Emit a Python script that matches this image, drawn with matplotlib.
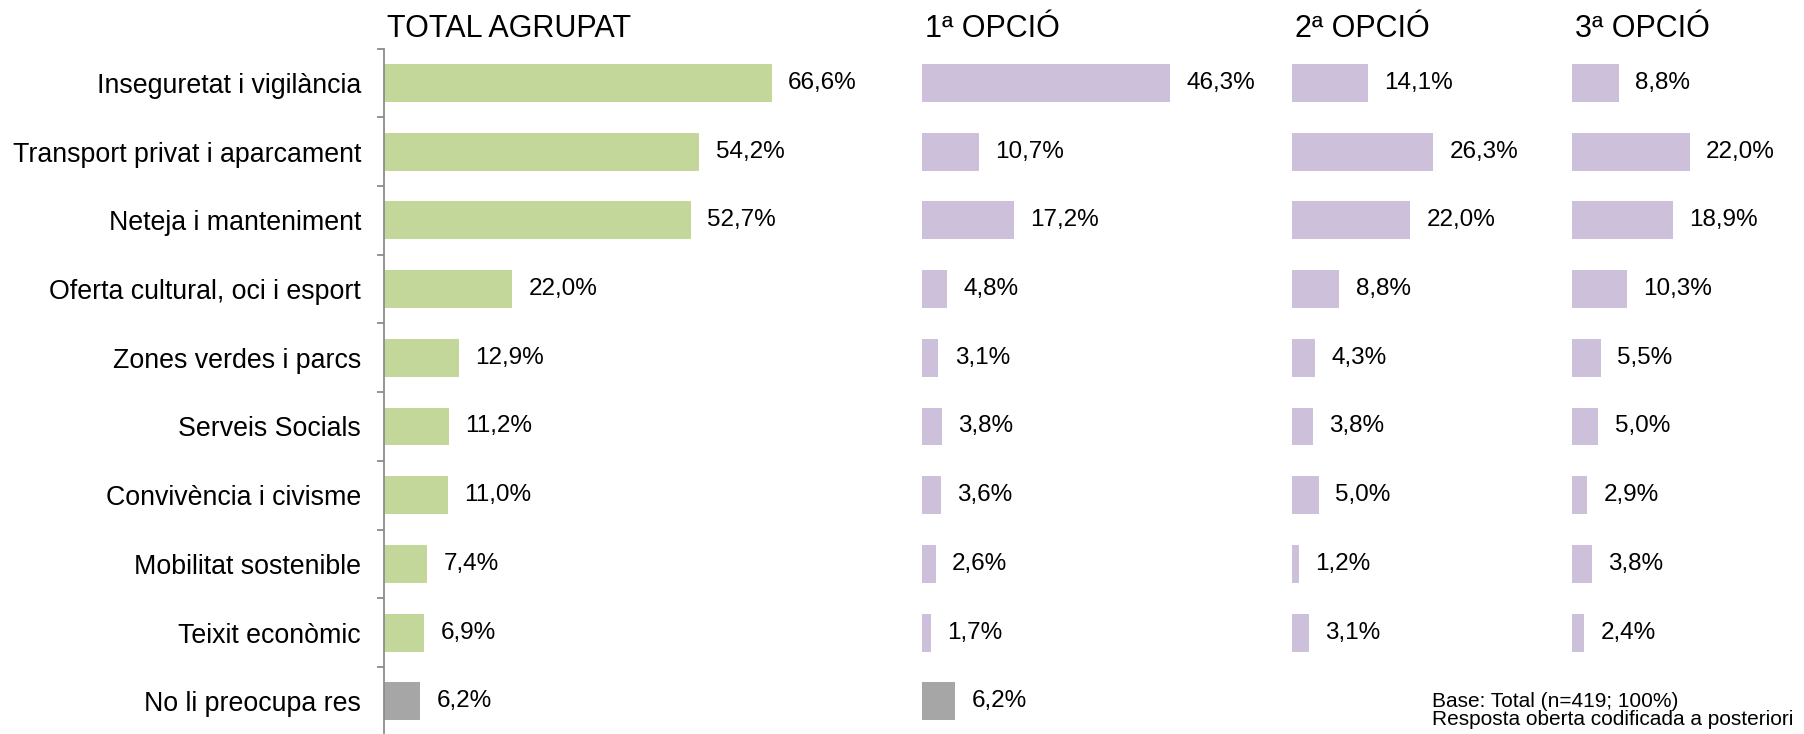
import numpy as np
import matplotlib
matplotlib.use("Agg")
import matplotlib.pyplot as plt

plt.rcParams["font.family"] = ["Liberation Sans", "DejaVu Sans"]

categories = ["Inseguretat i vigilància", "Transport privat i aparcament",
              "Neteja i manteniment", "Oferta cultural, oci i esport",
              "Zones verdes i parcs", "Serveis Socials", "Convivència i civisme",
              "Mobilitat sostenible", "Teixit econòmic", "No li preocupa res"]
total = [66.6, 54.2, 52.7, 22.0, 12.9, 11.2, 11.0, 7.4, 6.9, 6.2]
opcio1 = [46.3, 10.7, 17.2, 4.8, 3.1, 3.8, 3.6, 2.6, 1.7, 6.2]
opcio2 = [14.1, 26.3, 22.0, 8.8, 4.3, 3.8, 5.0, 1.2, 3.1, None]
opcio3 = [8.8, 22.0, 18.9, 10.3, 5.5, 5.0, 2.9, 3.8, 2.4, None]
titles = ["TOTAL AGRUPAT", "1ª OPCIÓ", "2ª OPCIÓ", "3ª OPCIÓ"]

green = "#C4D79B"
purple = "#CCC0DA"
grey = "#A6A6A6"

W, H = 1804, 734
fig = plt.figure(figsize=(W / 100, H / 100), dpi=100)

# panel geometry in pixels: left edge, width, px per percent
panels = [(384, 480, 5.82), (921.7, 300, 5.36), (1292.3, 260, 5.36), (1571.6, 232, 5.36)]
row_top, row_step = 83, 68.7
ax_top = row_top - row_step / 2
ax_h = row_step * 10


def fmt(v):
    return f"{v:.1f}%".replace(".", ",")


series = [total, opcio1, opcio2, opcio3]
base_colors = [green, purple, purple, purple]

for k, (left, width, scale) in enumerate(panels):
    ax = fig.add_axes([left / W, (H - ax_top - ax_h) / H, width / W, ax_h / H])
    vals = series[k]
    y = np.arange(len(categories))
    for i, v in enumerate(vals):
        if v is None:
            continue
        c = grey if categories[i] == "No li preocupa res" else base_colors[k]
        ax.barh(i, v, height=0.553, color=c, edgecolor="none")
        ax.annotate(fmt(v), (v, i), xytext=(11.8, 0), textcoords="offset points",
                    ha="left", va="center", fontsize=17.5)
    ax.set_xlim(0, width / scale)
    ax.set_ylim(9.5, -0.5)
    ax.set_xticks([])
    for s in ["top", "right", "bottom"]:
        ax.spines[s].set_visible(False)
    if k == 0:
        ax.spines["left"].set_color("#8C8C8C")
        ax.spines["left"].set_linewidth(1.3)
        ax.set_yticks(y)
        ax.set_yticklabels(categories, fontsize=19.3)
        ax.tick_params(axis="y", which="major", length=0, pad=16.5)
        ax.set_yticks(np.arange(-0.5, 10, 1), minor=True)
        ax.tick_params(axis="y", which="minor", length=5, width=1.3, color="#8C8C8C")
    else:
        ax.spines["left"].set_visible(False)
        ax.set_yticks([])
    ax.patch.set_alpha(0)
    fig.text((left + 3) / W, 1 - 36.7 / H, titles[k], fontsize=22, ha="left", va="baseline")

fig.text(1431.7 / W, (H - 706.7) / H, "Base: Total (n=419; 100%)", fontsize=15,
         ha="left", va="baseline")
fig.text(1431.7 / W, (H - 725) / H, "Resposta oberta codificada a posteriori", fontsize=15,
         ha="left", va="baseline")

fig.savefig("out.png", dpi=100)
